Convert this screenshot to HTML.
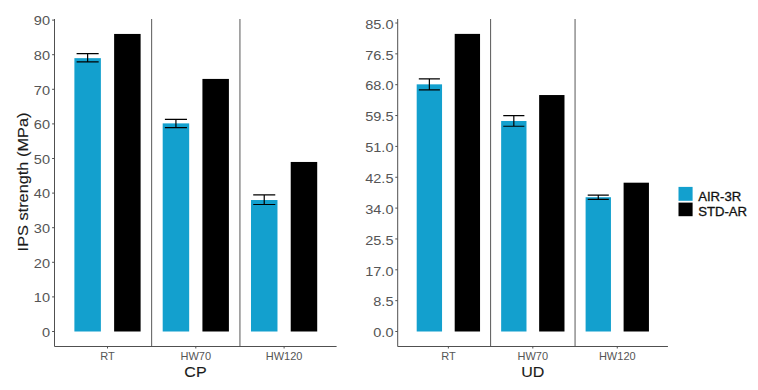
<!DOCTYPE html><html><head><meta charset="utf-8"><title>chart</title>
<style>html,body{margin:0;padding:0;background:#fff}svg{display:block}text{font-family:"Liberation Sans",sans-serif}</style></head><body>
<svg width="758" height="390" viewBox="0 0 758 390">
<rect width="758" height="390" fill="#fff"/>
<rect x="74.39" y="58.16" width="26.49" height="273.34" fill="#13a0ce"/>
<rect x="114.12" y="33.94" width="26.49" height="297.56" fill="#000"/>
<rect x="162.69" y="123.38" width="26.49" height="208.12" fill="#13a0ce"/>
<rect x="202.42" y="78.92" width="26.49" height="252.58" fill="#000"/>
<rect x="250.99" y="200.02" width="26.49" height="131.48" fill="#13a0ce"/>
<rect x="290.72" y="161.96" width="26.49" height="169.54" fill="#000"/>
<path d="M76.59 53.66H98.67M76.59 61.97H98.67M87.63 53.66V61.97" stroke="#000" stroke-width="1.2" fill="none"/>
<path d="M164.9 119.4H186.97M164.9 127.71H186.97M175.93 119.4V127.71" stroke="#000" stroke-width="1.2" fill="none"/>
<path d="M253.2 194.83H275.27M253.2 204.52H275.27M264.23 194.83V204.52" stroke="#000" stroke-width="1.2" fill="none"/>
<line x1="151.65" x2="151.65" y1="19" y2="346.5" stroke="#3a3a3a" stroke-width="0.85"/>
<line x1="239.95" x2="239.95" y1="19" y2="346.5" stroke="#3a3a3a" stroke-width="0.85"/>
<path d="M54.5 19V346.5H336.6" stroke="#505050" stroke-width="1" fill="none"/>
<line x1="52.1" x2="54.5" y1="331.5" y2="331.5" stroke="#505050" stroke-width="1"/>
<text transform="translate(50,336.8) scale(1.07,1)" font-size="13.6" fill="#555" text-anchor="end">0</text>
<line x1="52.1" x2="54.5" y1="296.9" y2="296.9" stroke="#505050" stroke-width="1"/>
<text transform="translate(50,302.2) scale(1.07,1)" font-size="13.6" fill="#555" text-anchor="end">10</text>
<line x1="52.1" x2="54.5" y1="262.3" y2="262.3" stroke="#505050" stroke-width="1"/>
<text transform="translate(50,267.6) scale(1.07,1)" font-size="13.6" fill="#555" text-anchor="end">20</text>
<line x1="52.1" x2="54.5" y1="227.7" y2="227.7" stroke="#505050" stroke-width="1"/>
<text transform="translate(50,233) scale(1.07,1)" font-size="13.6" fill="#555" text-anchor="end">30</text>
<line x1="52.1" x2="54.5" y1="193.1" y2="193.1" stroke="#505050" stroke-width="1"/>
<text transform="translate(50,198.4) scale(1.07,1)" font-size="13.6" fill="#555" text-anchor="end">40</text>
<line x1="52.1" x2="54.5" y1="158.5" y2="158.5" stroke="#505050" stroke-width="1"/>
<text transform="translate(50,163.8) scale(1.07,1)" font-size="13.6" fill="#555" text-anchor="end">50</text>
<line x1="52.1" x2="54.5" y1="123.9" y2="123.9" stroke="#505050" stroke-width="1"/>
<text transform="translate(50,129.2) scale(1.07,1)" font-size="13.6" fill="#555" text-anchor="end">60</text>
<line x1="52.1" x2="54.5" y1="89.3" y2="89.3" stroke="#505050" stroke-width="1"/>
<text transform="translate(50,94.6) scale(1.07,1)" font-size="13.6" fill="#555" text-anchor="end">70</text>
<line x1="52.1" x2="54.5" y1="54.7" y2="54.7" stroke="#505050" stroke-width="1"/>
<text transform="translate(50,60) scale(1.07,1)" font-size="13.6" fill="#555" text-anchor="end">80</text>
<line x1="52.1" x2="54.5" y1="20.1" y2="20.1" stroke="#505050" stroke-width="1"/>
<text transform="translate(50,25.4) scale(1.07,1)" font-size="13.6" fill="#555" text-anchor="end">90</text>
<line x1="107.5" x2="107.5" y1="346.5" y2="348.5" stroke="#505050" stroke-width="1"/>
<text transform="translate(107.5,359.9) scale(1.07,1)" font-size="10.3" fill="#555" text-anchor="middle">RT</text>
<line x1="195.8" x2="195.8" y1="346.5" y2="348.5" stroke="#505050" stroke-width="1"/>
<text transform="translate(195.8,359.9) scale(1.07,1)" font-size="10.3" fill="#555" text-anchor="middle">HW70</text>
<line x1="284.1" x2="284.1" y1="346.5" y2="348.5" stroke="#505050" stroke-width="1"/>
<text transform="translate(284.1,359.9) scale(1.07,1)" font-size="10.3" fill="#555" text-anchor="middle">HW120</text>
<text transform="translate(195.5,376.6) scale(1.035,1)" font-size="15.5" fill="#1a1a1a" stroke="#1a1a1a" stroke-width="0.12" text-anchor="middle">CP</text>
<text transform="translate(27.7,182) rotate(-90) scale(1.075,1)" font-size="15.2" fill="#1a1a1a" stroke="#1a1a1a" stroke-width="0.12" text-anchor="middle">IPS strength (MPa)</text>
<rect x="416.7" y="84.34" width="25.34" height="247.16" fill="#13a0ce"/>
<rect x="454.7" y="33.89" width="25.34" height="297.61" fill="#000"/>
<rect x="501.15" y="120.99" width="25.34" height="210.51" fill="#13a0ce"/>
<rect x="539.15" y="95.04" width="25.34" height="236.46" fill="#000"/>
<rect x="585.6" y="197.21" width="25.34" height="134.29" fill="#13a0ce"/>
<rect x="623.6" y="182.69" width="25.34" height="148.81" fill="#000"/>
<path d="M418.81 78.89H439.92M418.81 89.78H439.92M429.37 78.89V89.78" stroke="#000" stroke-width="1.2" fill="none"/>
<path d="M503.26 115.55H524.38M503.26 126.26H524.38M513.82 115.55V126.26" stroke="#000" stroke-width="1.2" fill="none"/>
<path d="M587.71 195.03H608.82M587.71 199.39H608.82M598.27 195.03V199.39" stroke="#000" stroke-width="1.2" fill="none"/>
<line x1="490.6" x2="490.6" y1="19" y2="346.5" stroke="#3a3a3a" stroke-width="0.85"/>
<line x1="575.05" x2="575.05" y1="19" y2="346.5" stroke="#3a3a3a" stroke-width="0.85"/>
<path d="M397.7 19V346.5H667.94" stroke="#505050" stroke-width="1" fill="none"/>
<line x1="395.3" x2="397.7" y1="331.5" y2="331.5" stroke="#505050" stroke-width="1"/>
<text transform="translate(393.5,337.2) scale(1.07,1)" font-size="13.6" fill="#555" text-anchor="end">0.0</text>
<line x1="395.3" x2="397.7" y1="300.65" y2="300.65" stroke="#505050" stroke-width="1"/>
<text transform="translate(393.5,306.35) scale(1.07,1)" font-size="13.6" fill="#555" text-anchor="end">8.5</text>
<line x1="395.3" x2="397.7" y1="269.8" y2="269.8" stroke="#505050" stroke-width="1"/>
<text transform="translate(393.5,275.5) scale(1.07,1)" font-size="13.6" fill="#555" text-anchor="end">17.0</text>
<line x1="395.3" x2="397.7" y1="238.95" y2="238.95" stroke="#505050" stroke-width="1"/>
<text transform="translate(393.5,244.65) scale(1.07,1)" font-size="13.6" fill="#555" text-anchor="end">25.5</text>
<line x1="395.3" x2="397.7" y1="208.1" y2="208.1" stroke="#505050" stroke-width="1"/>
<text transform="translate(393.5,213.8) scale(1.07,1)" font-size="13.6" fill="#555" text-anchor="end">34.0</text>
<line x1="395.3" x2="397.7" y1="177.25" y2="177.25" stroke="#505050" stroke-width="1"/>
<text transform="translate(393.5,182.95) scale(1.07,1)" font-size="13.6" fill="#555" text-anchor="end">42.5</text>
<line x1="395.3" x2="397.7" y1="146.4" y2="146.4" stroke="#505050" stroke-width="1"/>
<text transform="translate(393.5,152.1) scale(1.07,1)" font-size="13.6" fill="#555" text-anchor="end">51.0</text>
<line x1="395.3" x2="397.7" y1="115.55" y2="115.55" stroke="#505050" stroke-width="1"/>
<text transform="translate(393.5,121.25) scale(1.07,1)" font-size="13.6" fill="#555" text-anchor="end">59.5</text>
<line x1="395.3" x2="397.7" y1="84.7" y2="84.7" stroke="#505050" stroke-width="1"/>
<text transform="translate(393.5,90.4) scale(1.07,1)" font-size="13.6" fill="#555" text-anchor="end">68.0</text>
<line x1="395.3" x2="397.7" y1="53.85" y2="53.85" stroke="#505050" stroke-width="1"/>
<text transform="translate(393.5,59.55) scale(1.07,1)" font-size="13.6" fill="#555" text-anchor="end">76.5</text>
<line x1="395.3" x2="397.7" y1="23" y2="23" stroke="#505050" stroke-width="1"/>
<text transform="translate(393.5,28.7) scale(1.07,1)" font-size="13.6" fill="#555" text-anchor="end">85.0</text>
<line x1="448.37" x2="448.37" y1="346.5" y2="348.5" stroke="#505050" stroke-width="1"/>
<text transform="translate(448.37,359.9) scale(1.07,1)" font-size="10.3" fill="#555" text-anchor="middle">RT</text>
<line x1="532.82" x2="532.82" y1="346.5" y2="348.5" stroke="#505050" stroke-width="1"/>
<text transform="translate(532.82,359.9) scale(1.07,1)" font-size="10.3" fill="#555" text-anchor="middle">HW70</text>
<line x1="617.27" x2="617.27" y1="346.5" y2="348.5" stroke="#505050" stroke-width="1"/>
<text transform="translate(617.27,359.9) scale(1.07,1)" font-size="10.3" fill="#555" text-anchor="middle">HW120</text>
<text transform="translate(532.82,376.6) scale(1.035,1)" font-size="15.5" fill="#1a1a1a" stroke="#1a1a1a" stroke-width="0.12" text-anchor="middle">UD</text>
<rect x="678.5" y="186.9" width="14.1" height="13.9" fill="#13a0ce"/>
<rect x="678.5" y="202.6" width="14.1" height="13.6" fill="#000"/>
<text transform="translate(698.2,200.6) scale(1.07,1)" font-size="12.3" fill="#111" stroke="#111" stroke-width="0.3" text-anchor="start">AIR-3R</text>
<text transform="translate(698.2,215.8) scale(1.07,1)" font-size="12.3" fill="#111" stroke="#111" stroke-width="0.3" text-anchor="start">STD-AR</text>
</svg></body></html>
